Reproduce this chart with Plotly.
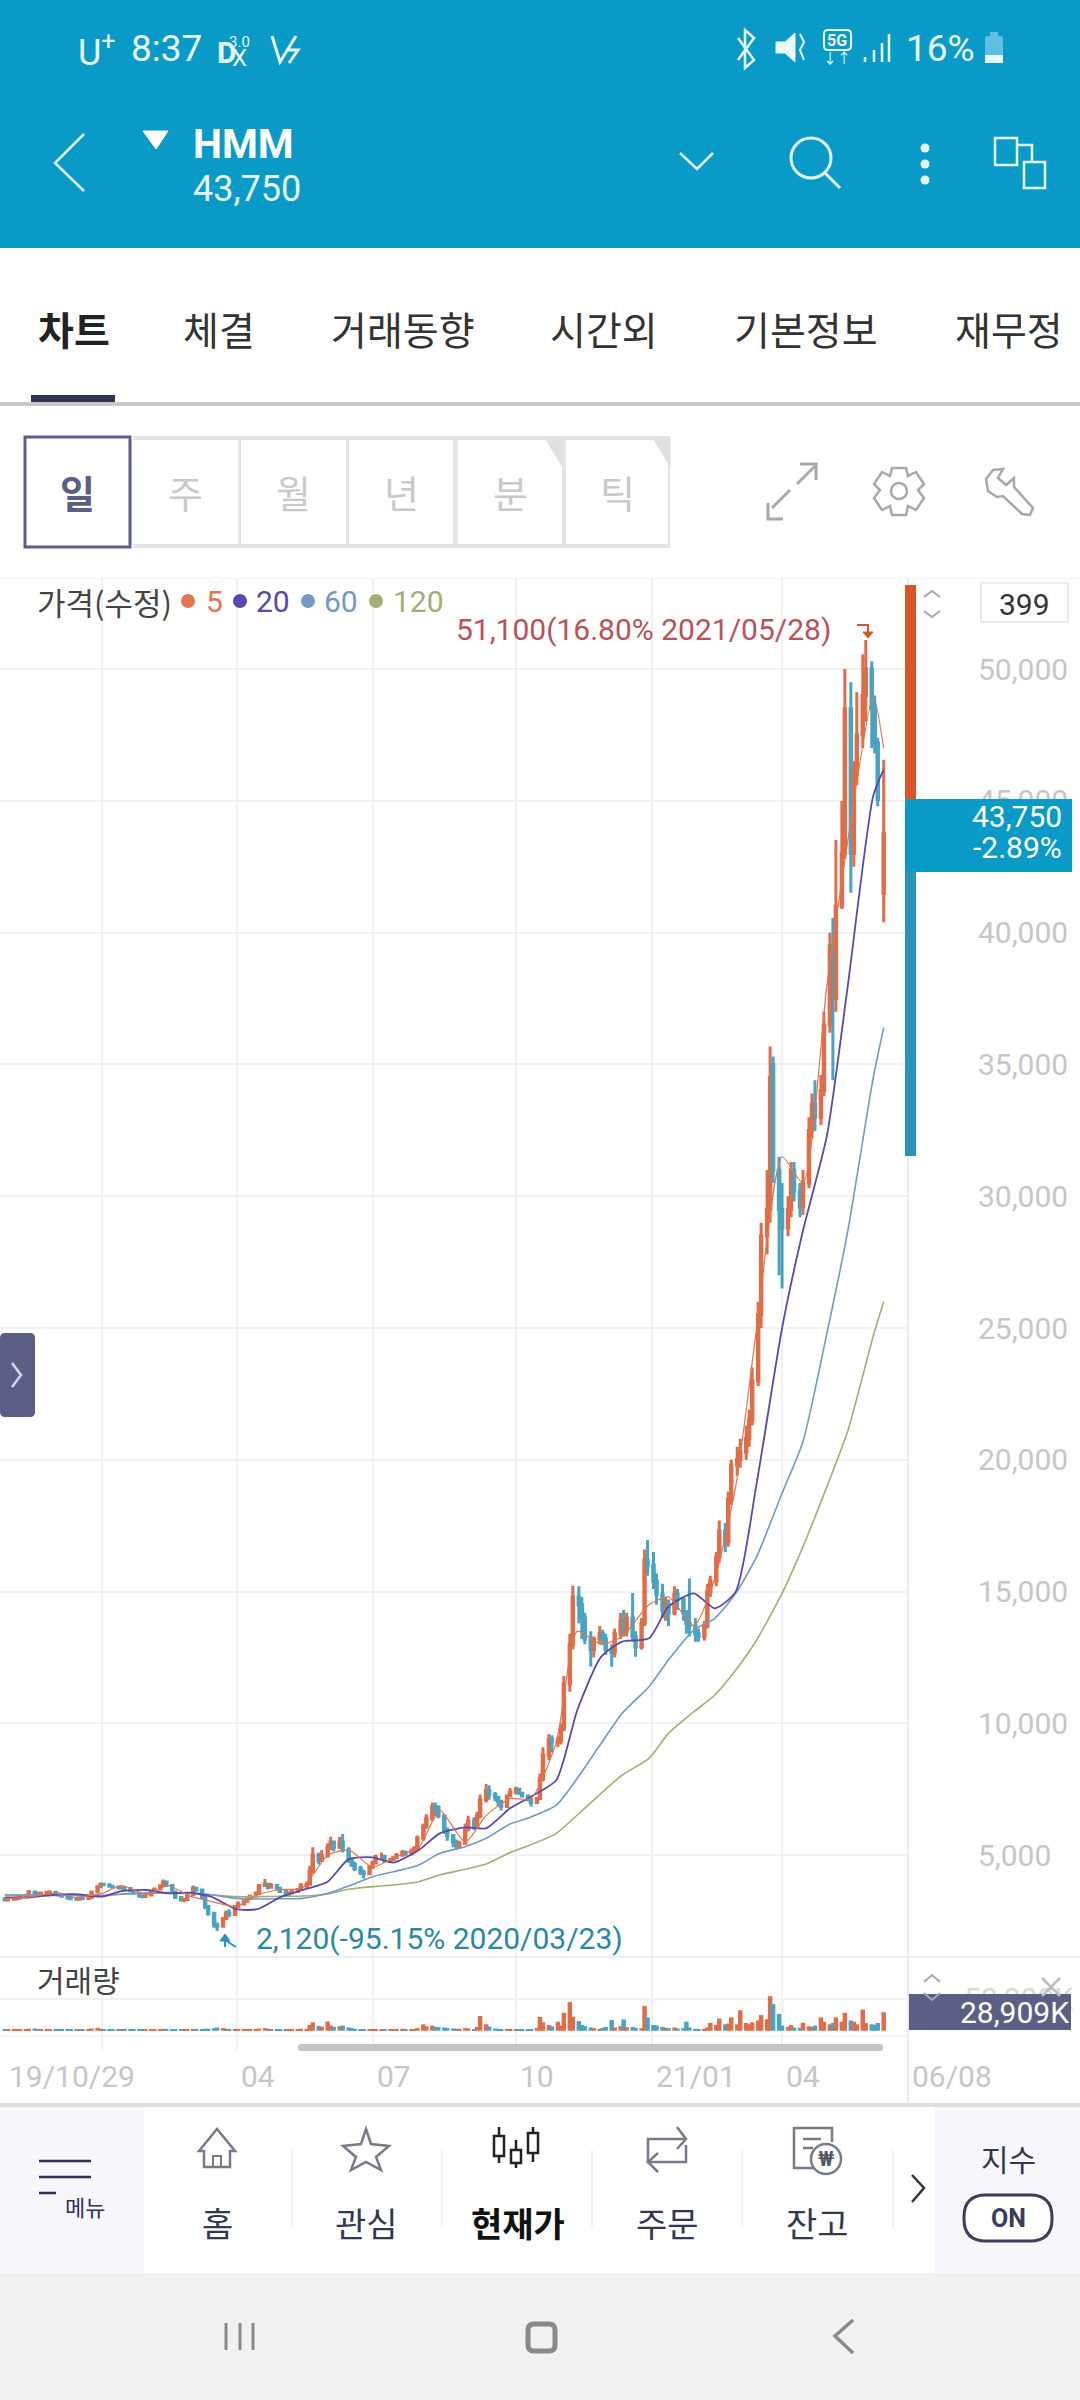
import pandas as pd
import plotly.graph_objects as go

W, H = 1080, 2400
FONT = "Roboto, 'Noto Sans CJK KR', sans-serif"
KR = "'Noto Sans CJK KR', Roboto, sans-serif"

UP = "#d9552a"
DOWN = "#2a93b9"
HEADER = "#0a9ac8"
NAVY = "#2e3356"
SLATE = "#5c5f85"
GRID = "#f1f1f3"
TICK = "#c6c6c6"

# +++++++++
# Chart data

opens = [
    3350, 3300, 3330, 3340, 3380, 3410, 3420, 3600, 3560,
    3540, 3570, 3590, 3590, 3530, 3490, 3440, 3380, 3350, 3330,
    3370, 3360, 3400, 3600, 3800, 3900, 3880, 3820, 3790, 3760,
    3770, 3740, 3650, 3560, 3440, 3430, 3490, 3600, 3720, 3840,
    3980, 3850, 3600, 3400, 3300, 3320, 3500, 3750, 3680, 3400,
    3050, 2800, 2350, 2300, 2600, 2800, 2750, 3050, 3150, 3250,
    3350, 3450, 3550, 3850, 3900, 3780, 3850, 3750, 3620, 3520,
    3580, 3620, 3700, 3850, 3900, 4400, 5000, 4800, 5000, 5300,
    5500, 5300, 5500, 5200, 4800, 4650, 4500, 4350, 4300, 4550,
    4700, 4950, 4950, 4780, 4850, 4900, 5000, 5100, 5050, 5150,
    5250, 5650, 6100, 6400, 6850, 6800, 6500, 5950, 5750, 5500,
    5350, 5450, 6000, 6300, 6050, 6500, 7100, 7450, 7300, 7200,
    7050, 6850, 7250, 7400, 7500, 7350, 7250, 7100, 7000, 7150,
    7900, 8800, 9400, 9300, 9350, 9800, 11500, 13000, 14800, 14500,
    14000, 13200, 12800, 13200, 13400, 13200, 12800, 12700, 13400, 13900,
    13500, 14000, 13300, 12900, 13800, 16200, 16000, 15400, 14900, 14300,
    14500, 14200, 14900, 14700, 14200, 13800, 13700, 13400, 13300, 13700,
    15000, 15400, 16300, 17300, 16900, 18500, 19800, 20000, 20300, 20800,
    21500, 23000, 25500, 28500, 29500, 35000, 31000, 29500, 28800, 29500,
    31000, 30200, 29600, 30500, 32500, 33500, 33000, 34000, 36500, 39500,
    37500, 41000, 43000, 48500, 43000, 46000, 47500, 49000, 50000, 48500,
    47200, 41500,
]
closes = [
    3300, 3330, 3340, 3380, 3410, 3480, 3600, 3560, 3540,
    3570, 3590, 3600, 3530, 3490, 3440, 3380, 3350, 3330, 3370,
    3360, 3400, 3600, 3800, 3900, 3880, 3820, 3790, 3760, 3770,
    3740, 3650, 3560, 3440, 3430, 3490, 3600, 3720, 3840, 3980,
    3850, 3600, 3400, 3300, 3320, 3500, 3750, 3680, 3400, 3050,
    2800, 2350, 2300, 2600, 2800, 2750, 3050, 3150, 3250, 3350,
    3450, 3550, 3850, 3900, 3780, 3850, 3750, 3620, 3520, 3580,
    3620, 3700, 3850, 3900, 4400, 5000, 4800, 5000, 5300, 5500,
    5300, 5500, 5200, 4800, 4650, 4500, 4350, 4300, 4550, 4700,
    4950, 4950, 4780, 4850, 4900, 5000, 5100, 5050, 5150, 5250,
    5650, 6100, 6400, 6850, 6800, 6500, 5950, 5750, 5500, 5350,
    5450, 6000, 6300, 6050, 6500, 7100, 7450, 7300, 7200, 7050,
    6850, 7250, 7400, 7500, 7350, 7250, 7100, 7000, 7150, 7900,
    8800, 9400, 9300, 9350, 9800, 11500, 13000, 14800, 14500, 14000,
    13200, 12800, 13200, 13400, 13200, 12800, 12700, 13400, 13900, 13500,
    14000, 13300, 12900, 13800, 16200, 16000, 15400, 14900, 14300, 14500,
    14200, 14900, 14700, 14200, 13800, 13700, 13400, 13300, 13700, 15000,
    15400, 16300, 17300, 16900, 18500, 19800, 20000, 20300, 20800, 21500,
    23000, 25500, 28500, 29500, 34500, 31000, 29500, 28800, 29500, 31000,
    30200, 29600, 30500, 32500, 33500, 33000, 34000, 36500, 39500, 39000,
    41000, 43000, 48500, 43000, 46000, 47500, 49000, 50000, 48500, 47200,
    45050, 43750,
]
highs = [
    3380, 3350, 3360, 3400, 3430, 3500, 3680, 3640, 3590,
    3600, 3620, 3640, 3610, 3550, 3510, 3460, 3400, 3380, 3390,
    3410, 3430, 3650, 3850, 3960, 3950, 3900, 3850, 3820, 3800,
    3800, 3760, 3680, 3590, 3480, 3520, 3640, 3760, 3880, 4080,
    4020, 3880, 3640, 3440, 3350, 3540, 3850, 3800, 3700, 3420,
    3100, 2850, 2450, 2650, 2900, 2950, 3100, 3250, 3300, 3400,
    3500, 3620, 3900, 4100, 3950, 3950, 3880, 3780, 3640, 3600,
    3650, 3750, 3950, 4000, 4600, 5300, 5100, 5200, 5450, 5700,
    5550, 5700, 5800, 5300, 4900, 4750, 4600, 4450, 4620, 4800,
    5020, 5100, 5020, 4900, 4950, 5080, 5200, 5180, 5250, 5350,
    5750, 6200, 6550, 7000, 7000, 6900, 6550, 6050, 5800, 5600,
    5550, 6200, 6500, 6450, 6650, 7300, 7700, 7650, 7400, 7250,
    7100, 7300, 7550, 7600, 7550, 7400, 7300, 7150, 7200, 8100,
    9100, 9600, 9550, 9500, 10000, 11800, 13400, 15225, 15200, 14800,
    14200, 13500, 13300, 13700, 13550, 13400, 13000, 13600, 14200, 14300,
    14200, 14950, 13500, 14000, 16600, 16960, 16500, 15700, 15300, 14800,
    14700, 15200, 15100, 14800, 14300, 15500, 14000, 13600, 13900, 15300,
    15600, 16500, 17700, 17600, 18800, 20000, 20500, 20800, 21300, 21900,
    23500, 26000, 29000, 31000, 35680, 35300, 31500, 30500, 30000, 31300,
    31300, 30500, 31000, 33000, 33900, 34400, 34600, 37000, 40000, 40560,
    43520, 45000, 50000, 49500, 46500, 49120, 50560, 51100, 50300, 49000,
    47400, 46560,
]
lows = [
    3260, 3280, 3310, 3320, 3360, 3390, 3400, 3530, 3510,
    3510, 3550, 3570, 3510, 3470, 3420, 3360, 3300, 3290, 3310,
    3320, 3340, 3380, 3580, 3780, 3840, 3800, 3760, 3730, 3730,
    3700, 3620, 3520, 3390, 3370, 3410, 3470, 3580, 3700, 3820,
    3800, 3560, 3360, 3240, 3220, 3300, 3480, 3620, 3350, 2950,
    2700, 2250, 2120, 2250, 2550, 2650, 2700, 3000, 3100, 3200,
    3300, 3420, 3520, 3800, 3700, 3750, 3700, 3580, 3460, 3480,
    3550, 3600, 3680, 3750, 3880, 4300, 4650, 4750, 4900, 5200,
    5150, 5250, 5100, 4700, 4550, 4400, 4250, 4120, 4250, 4480,
    4650, 4850, 4700, 4700, 4780, 4850, 4950, 4980, 5000, 5100,
    5200, 5550, 6000, 6300, 6500, 6400, 5800, 5550, 5300, 5200,
    5250, 5400, 5900, 5950, 6000, 6400, 7000, 7100, 7050, 6850,
    6700, 6800, 7200, 7300, 7300, 7200, 7050, 6850, 6950, 7100,
    7800, 8600, 8900, 9100, 9200, 9700, 11200, 12800, 13800, 13200,
    13000, 12150, 12500, 13000, 13000, 12600, 12150, 12500, 13200, 13300,
    13300, 13100, 12530, 12800, 13700, 15600, 15100, 14500, 14000, 13900,
    13700, 14100, 14300, 13900, 13400, 13300, 13100, 13100, 13150, 13600,
    14800, 15200, 16100, 16500, 16700, 18300, 19400, 19700, 20000, 20500,
    21300, 22800, 25000, 27800, 29000, 30500, 27000, 26500, 28480, 29200,
    29800, 29200, 29300, 30300, 32200, 32480, 32700, 33800, 36200, 34400,
    37000, 40900, 42800, 41520, 42500, 45600, 47000, 48000, 47000, 46800,
    44800, 40400,
]
volumes_k = [
    2500, 2000, 2800, 1800, 2000, 2200, 3000, 3500, 2500,
    2200, 2800, 2000, 2400, 1800, 2000, 2500, 2200, 1800, 2000,
    1900, 2200, 3500, 4500, 3000, 2500, 2200, 1800, 2000, 1800,
    1800, 2000, 1800, 2500, 1900, 2000, 2200, 1800, 2500, 3000,
    2000, 2500, 1800, 2000, 1800, 2200, 2800, 2000, 2500, 3000,
    3000, 4000, 5000, 4000, 3000, 2500, 2000, 2500, 2400, 2200,
    2400, 2600, 3500, 4000, 3000, 2500, 2400, 2000, 2200, 2000,
    2000, 2400, 3000, 3000, 9000, 13000, 7500, 6000, 14500, 8000,
    6000, 7000, 8000, 5000, 4000, 3000, 2500, 2200, 2000, 2400,
    2500, 2000, 1800, 2000, 2200, 2500, 3000, 2000, 2000, 2500,
    4000, 10000, 7000, 8000, 6000, 5500, 5000, 4000, 3500, 3000,
    3000, 4000, 3500, 2800, 6000, 23000, 10000, 6500, 3500, 3000,
    2500, 2800, 2500, 2000, 2000, 2200, 2000, 2500, 4500, 21800,
    13000, 9000, 7000, 14000, 8000, 28000, 44700, 21800, 15000, 9000,
    7000, 5000, 4000, 3000, 4500, 6000, 16600, 5000, 7000, 17700,
    5500, 6000, 4500, 4000, 38500, 20800, 9000, 8000, 6000, 4500,
    4000, 5000, 3500, 4000, 14000, 5000, 3000, 2500, 3000, 5000,
    12500, 9000, 19000, 10000, 11000, 20800, 10000, 32000, 12000, 10000,
    13000, 16000, 24400, 18000, 54000, 41600, 26000, 8000, 6000, 8800,
    5000, 4500, 12500, 7000, 6000, 8000, 20800, 14000, 10000, 12000,
    20800, 14000, 28000, 16000, 14000, 10000, 33000, 12000, 10000, 9000,
    12000, 28909,
]

ma_dates = [
    "2019-10-29", "2019-11-15", "2019-12-01", "2019-12-15", "2020-01-02",
    "2020-01-15", "2020-02-01", "2020-02-15", "2020-03-01", "2020-03-15",
    "2020-04-01", "2020-04-15", "2020-05-01", "2020-05-15", "2020-06-01",
    "2020-06-15", "2020-07-01", "2020-07-15", "2020-08-01", "2020-08-15",
    "2020-09-01", "2020-09-15", "2020-10-01", "2020-10-15", "2020-11-01",
    "2020-11-15", "2020-12-01", "2020-12-15", "2021-01-02", "2021-01-15",
    "2021-02-01", "2021-02-15", "2021-03-01", "2021-03-15", "2021-04-01",
    "2021-04-15", "2021-05-01", "2021-05-15", "2021-06-01", "2021-06-08",
]
ma5 = [
    3350, 3420, 3560, 3400, 3550, 3850, 3500, 3850, 3450, 3250,
    3050, 3500, 3700, 3750, 5000, 5200, 4550, 4900, 5300, 6700,
    5500, 6500, 7150, 7150, 9300, 13500, 13000, 13300, 14500, 14800,
    13700, 15500, 19000, 25000, 31500, 30500, 38000, 43500, 49000, 47000,
]
ma20 = [
    3400, 3400, 3500, 3520, 3427, 3640, 3680, 3554, 3580, 3427,
    2950, 2950, 3427, 3680, 3996, 4850, 4920, 4717, 5198, 5830,
    6058, 6020, 6779, 7221, 7853, 10509, 12533, 13102, 13229, 14430,
    14936, 14367, 15000, 19110, 25000, 28700, 32300, 38000, 45200, 46200,
]
ma60 = [
    3490, 3480, 3470, 3480, 3480, 3530, 3560, 3580, 3560, 3500,
    3364, 3340, 3350, 3364, 3554, 3832, 4186, 4376, 4629, 5071,
    5324, 5640, 6184, 6450, 6900, 7917, 9245, 10383, 11394, 12406,
    13545, 13987, 14936, 16327, 18730, 20700, 24800, 28700, 34500, 36400,
]
ma120 = [
    3490, 3490, 3490, 3470, 3450, 3520, 3560, 3580, 3560, 3500,
    3427, 3430, 3440, 3450, 3530, 3706, 3807, 3870, 3996, 4250,
    4465, 4667, 5100, 5400, 5830, 6525, 7348, 8043, 8676, 9624,
    10446, 11078, 12027, 13165, 14936, 16707, 18983, 21100, 24700, 26000,
]
ma_periods = ["5", "20", "60", "120"]
ma_colors = ["#e2744e", "#5a48ae", "#7199c4", "#a3ad74"]

price_ticks = [5000, 10000, 15000, 20000, 25000, 30000, 35000, 40000, 45000, 50000]
grid_dates = ["2020-01-02", "2020-04-01", "2020-07-01", "2020-10-05", "2021-01-04", "2021-04-01"]
date_label_dates = ["2019-10-29", "2020-04-01", "2020-07-01", "2020-10-05", "2021-01-04", "2021-04-01"]
date_labels = ["19/10/29", "04", "07", "10", "21/01", "04"]
tab_names = ["차트", "체결", "거래동향", "시간외", "기본정보", "재무정"]
period_names = ["일", "주", "월", "년", "분", "틱"]
nav_names = ["홈", "관심", "현재가", "주문", "잔고"]

session_dates = pd.bdate_range(end="2021-06-08", periods=len(closes), freq="2B")


# +++++++++
# Pixel helpers for the phone screen around the chart

def px(x):
    return x / W

def py(y):
    return 1 - y / H

shapes = []
notes = []

def rect(x0, y0, x1, y1, fill=None, line=None, width=0, radius=0):
    if radius:
        r = radius
        pts = (f"M {px(x0 + r)} {py(y0)} L {px(x1 - r)} {py(y0)} Q {px(x1)} {py(y0)} {px(x1)} {py(y0 + r)} "
               f"L {px(x1)} {py(y1 - r)} Q {px(x1)} {py(y1)} {px(x1 - r)} {py(y1)} "
               f"L {px(x0 + r)} {py(y1)} Q {px(x0)} {py(y1)} {px(x0)} {py(y1 - r)} "
               f"L {px(x0)} {py(y0 + r)} Q {px(x0)} {py(y0)} {px(x0 + r)} {py(y0)} Z")
        shapes.append(dict(type="path", path=pts, xref="paper", yref="paper", fillcolor=fill or "rgba(0,0,0,0)",
                           line=dict(color=line or "rgba(0,0,0,0)", width=width), layer="above"))
        return
    shapes.append(dict(type="rect", xref="paper", yref="paper", x0=px(x0), x1=px(x1), y0=py(y0), y1=py(y1),
                       fillcolor=fill or "rgba(0,0,0,0)", line=dict(color=line or "rgba(0,0,0,0)", width=width),
                       layer="above"))

def poly(points, color, width=2, fill=None, closed=False):
    path = "M " + " L ".join(f"{px(x)} {py(y)}" for x, y in points) + (" Z" if closed else "")
    shapes.append(dict(type="path", path=path, xref="paper", yref="paper", fillcolor=fill or "rgba(0,0,0,0)",
                       line=dict(color=color, width=width), layer="above"))

def circle(x, y, r, fill=None, line=None, width=0):
    shapes.append(dict(type="circle", xref="paper", yref="paper", x0=px(x - r), x1=px(x + r), y0=py(y + r), y1=py(y - r),
                       fillcolor=fill or "rgba(0,0,0,0)", line=dict(color=line or "rgba(0,0,0,0)", width=width),
                       layer="above"))

def text(x, y, s, size, color, anchor="center", bold=False, family=FONT):
    if bold:
        s = f"<b>{s}</b>"
    notes.append(dict(x=px(x), y=py(y), xref="paper", yref="paper", text=s, showarrow=False, xanchor=anchor,
                      yanchor="middle", borderpad=0, font=dict(family=family, size=size, color=color)))


# +++++++++
# Status bar and header

rect(0, 0, W, 248, fill=HEADER)
text(77, 50, "U<sup>+</sup>", 36, "#e8f8ff", "left")
text(130, 49, "8:37", 37, "#e8f8ff", "left")
text(216, 52, "D", 30, "#e8f8ff", "left", bold=True)
text(239, 42, "3.0", 15, "#e8f8ff", "center")
text(239, 58, "X", 24, "#e8f8ff", "center")
poly([(272, 36), (280, 62), (296, 36)], "#e8f8ff", 3)
poly([(288, 50), (298, 50), (289, 63)], "#e8f8ff", 3)
poly([(738, 38), (754, 60), (745, 68), (745, 30), (754, 38), (738, 60)], "#e8f8ff", 2.5)
poly([(776, 42), (785, 42), (795, 33), (795, 62), (785, 53), (776, 53)], "#e8f8ff", 1, fill="#e8f8ff", closed=True)
poly([(800, 34), (804, 42), (800, 50), (804, 60)], "#e8f8ff", 2)
rect(824, 30, 851, 50, line="#e8f8ff", width=2, radius=4)
text(837.5, 40, "5G", 16, "#e8f8ff", bold=True)
text(837, 58, "↓↑", 14, "#e8f8ff")
for bar_x, bar_top in zip([865, 874, 882, 889], [57, 50, 43, 34]):
    poly([(bar_x, bar_top), (bar_x, 62)], "#e8f8ff", 2.5)
text(905, 49, "16%", 37, "#e8f8ff", "left")
rect(985, 36, 1003, 63, fill="#60bfe0", radius=2)
rect(990, 32, 998, 36, fill="#60bfe0")
rect(985, 55, 1003, 63, fill="#e8f8ff")

poly([(84, 134), (55, 163), (84, 191)], "#e4f6fc", 2.5)
poly([(143, 131), (168, 131), (156, 149)], "white", 1, fill="white", closed=True)
text(192, 144, "HMM", 41, "white", "left", bold=True)
text(192, 189, "43,750", 36, "#e4f6fc", "left")
poly([(680, 153), (697, 169), (713, 153)], "#e4f6fc", 2.5)
circle(811, 158, 20, line="#e4f6fc", width=3)
poly([(825, 173), (840, 188)], "#e4f6fc", 3)
for dot_y in [148, 164, 180]:
    circle(925, dot_y, 4.5, fill="#e4f6fc")
rect(995, 138, 1017, 165, line="#e4f6fc", width=2.5)
rect(1024, 162, 1045, 188, line="#e4f6fc", width=2.5)
poly([(1017, 145), (1032, 145), (1032, 162)], "#e4f6fc", 2.5)


# +++++++++
# Tabs and period buttons

for name, x0 in zip(tab_names, [37, 182, 330, 549, 733, 954]):
    selected = name == tab_names[0]
    text(x0, 328, name, 39, "#222222" if selected else "#333333", "left", bold=selected, family=KR)
rect(0, 402, W, 406, fill="#c8c8c8")
rect(31, 395, 115, 402, fill=NAVY)

rect(133, 436, 670, 548, fill="#e4e4e4")
for x0, x1, name in zip([133, 241, 349, 458, 566], [238, 346, 453, 562, 668], period_names[1:]):
    rect(x0, 440, x1, 544, fill="white")
    text((x0 + x1) / 2, 492, name, 38, "#c9c9c9", family=KR)
for x1 in [562, 670]:
    poly([(x1 - 17, 438), (x1, 438), (x1, 466)], "#e0e0e0", 1, fill="#e0e0e0", closed=True)
rect(25, 437, 130, 547, fill="white", line=SLATE, width=3)
text(78, 492, period_names[0], 38, SLATE, bold=True, family=KR)

poly([(772, 508), (790, 490)], "#a8a8a8", 3)
poly([(768, 503), (768, 519), (783, 519)], "#a8a8a8", 3)
poly([(797, 484), (815, 466)], "#a8a8a8", 3)
poly([(800, 464), (816, 464), (816, 480)], "#a8a8a8", 3)
poly([(892, 468), (906, 468), (908, 476), (916, 472), (924, 484), (918, 490), (924, 498), (916, 510),
      (908, 506), (906, 515), (892, 515), (890, 506), (882, 510), (874, 498), (880, 490), (874, 484),
      (882, 472), (890, 476)], "#a8a8a8", 2.5, closed=True)
circle(899, 491, 8, line="#a8a8a8", width=2.5)
poly([(1003, 469), (993, 470), (986, 479), (988, 491), (997, 497), (1003, 496), (1022, 514), (1030, 515),
      (1033, 508), (1014, 487), (1014, 478), (1006, 485), (998, 478)], "#a8a8a8", 2.5, closed=True)


# +++++++++
# Chart panes

rect(0, 578, W, 578.5, fill="#e9e9e9")
rect(0, 1956, W, 1958, fill="#ededed")
rect(0, 2035, 907, 2036.5, fill=GRID)
rect(907, 578, 909, 2103, fill="#ececec")

# price position marker on the right
rect(905, 585, 916, 800, fill="#d9552a")
rect(905, 872, 916, 1156, fill="#2a93b9")
rect(905, 799, 1072, 872, fill=HEADER)
text(1063, 817, "43,750", 30, "white", "right")
text(1063, 847, "-2.89%", 30, "white", "right")

rect(981, 583, 1068, 622, fill="white", line="#ececec", width=2)
text(1024, 604, "399", 30, "#333333")
poly([(924, 597), (932, 591), (940, 597)], "#a8a8a8", 2)
poly([(924, 611), (932, 617), (940, 611)], "#a8a8a8", 2)

text(36, 601, "가격(수정)", 31, "#444444", "left", family=KR)
for ma_x, label_x, period, color in zip([188, 240, 308, 376], [205, 255, 323, 392], ma_periods, ma_colors):
    circle(ma_x, 601, 7, fill=color)
    text(label_x, 601, period, 30, color, "left")

text(455, 630, "51,100(16.80% 2021/05/28)", 30, "#b9505a", "left")
poly([(857, 625), (868, 625), (868, 632)], UP, 2)
poly([(863, 632), (873, 632), (868, 638)], UP, 1, fill=UP, closed=True)

text(255, 1938, "2,120(-95.15% 2020/03/23)", 30, "#2a87a6", "left")
poly([(225, 1947), (225, 1940), (236, 1947)], DOWN, 2)
poly([(220, 1941), (230, 1941), (225, 1934)], DOWN, 1, fill=DOWN, closed=True)

text(36, 1979, "거래량", 30, "#444444", "left", family=KR)
poly([(924, 1982), (932, 1975), (940, 1982)], "#a8a8a8", 2)
rect(909, 1994, 1071, 2030, fill=SLATE)
poly([(924, 1993), (932, 2000), (940, 1993)], "#a8a8a8", 2)
poly([(1042, 1978), (1060, 1996)], "#bdbdbd", 2.5)
poly([(1060, 1978), (1042, 1996)], "#bdbdbd", 2.5)
text(1070, 2012, "28,909K", 30, "white", "right")

rect(298, 2044, 883, 2051, fill="#c4c4c4", radius=3)
text(911, 2076, "06/08", 30, TICK, "left")
rect(0, 1333, 35, 1417, fill=SLATE, radius=5)
poly([(12, 1363), (21, 1375), (12, 1387)], "#d8d9e6", 2.5)

for label_date, label in zip(date_label_dates, date_labels):
    notes.append(dict(x=label_date, y=py(2076), xref="x2", yref="paper", text=label, showarrow=False, xanchor="left",
                      yanchor="middle", xshift=2, font=dict(family=FONT, size=30, color=TICK)))


# +++++++++
# Bottom menu and navigation bar

rect(0, 2103, W, 2107, fill="#e0e0e0")
rect(0, 2107, 144, 2273, fill="#f6f6fb")
rect(144, 2107, 935, 2273, fill="white")
rect(935, 2107, W, 2273, fill="#f6f6fb")
rect(0, 2273, W, H, fill="#f1f1f1")

poly([(39, 2161), (91, 2161)], NAVY, 2.5)
poly([(39, 2177), (91, 2177)], NAVY, 2.5)
poly([(39, 2193), (56, 2193)], NAVY, 2.5)
text(85, 2206, "메뉴", 22, NAVY, family=KR)

for sep_x in [292, 442, 592, 742, 893]:
    poly([(sep_x, 2150), (sep_x, 2227)], "#eeeeee", 1.5)
for name, nav_x in zip(nav_names, [217, 366, 518, 667, 817]):
    selected = name == "현재가"
    text(nav_x, 2222, name, 34, "#111111" if selected else "#33374f", bold=selected, family=KR)

poly([(217, 2129), (235, 2151), (230, 2151), (230, 2167), (204, 2167), (204, 2151), (199, 2151)], "#777a88", 2.5, closed=True)
poly([(213, 2167), (213, 2156), (221, 2156), (221, 2167)], "#777a88", 2)
poly([(366, 2129), (371, 2144), (389, 2146), (376, 2157), (381, 2170), (366, 2162), (351, 2170), (356, 2157),
      (343, 2146), (361, 2144)], "#777a88", 2.5, closed=True)
for stem_x, body_top, body_bot, stem_top, stem_bot in [(499, 2136, 2156, 2127, 2163), (516, 2150, 2163, 2140, 2168),
                                                        (533, 2133, 2153, 2127, 2162)]:
    poly([(stem_x, stem_top), (stem_x, stem_bot)], "#222222", 2.5)
    rect(stem_x - 5, body_top, stem_x + 5, body_bot, fill="white", line="#222222", width=2.5)
poly([(652, 2162), (648, 2162), (648, 2139), (684, 2139)], "#777a88", 2.5)
poly([(677, 2127), (686, 2139), (677, 2149)], "#777a88", 2.5)
poly([(686, 2145), (686, 2162), (650, 2162)], "#777a88", 2.5)
poly([(658, 2153), (648, 2162), (658, 2172)], "#777a88", 2.5)
poly([(822, 2168), (794, 2168), (794, 2128), (832, 2128), (832, 2142)], "#777a88", 2.5)
poly([(803, 2139), (821, 2139)], "#777a88", 2.5)
poly([(803, 2148), (813, 2148)], "#777a88", 2.5)
circle(826, 2159, 15, fill="white", line="#777a88", width=2.5)
text(826, 2159, "₩", 20, "#555868", bold=True)
poly([(912, 2175), (924, 2188), (912, 2202)], "#333333", 2.5)

text(1008, 2158, "지수", 30, "#33374f", family=KR)
rect(964, 2195, 1052, 2241, fill="white", line="#3a3d5c", width=3, radius=22)
text(1008, 2218, "ON", 25, "#3a3d5c", bold=True)

for bar_x in [226, 240, 253]:
    poly([(bar_x, 2323), (bar_x, 2350)], "#8a8a8a", 3)
rect(528, 2324, 555, 2351, line="#8a8a8a", width=5, radius=6)
poly([(853, 2320), (835, 2336), (853, 2353)], "#8a8a8a", 3.5)


# +++++++++
# Traces

volume_colors = [UP if c >= o else DOWN for o, c in zip(opens, closes)]

fig = go.Figure()

for values, color, line_width in zip([ma120, ma60, ma20], ma_colors[:0:-1], [1.6, 1.6, 1.8]):
    fig.add_trace(go.Scatter(
        x=ma_dates,
        y=values,
        mode="lines",
        line=dict(color=color, width=line_width, shape="spline", smoothing=0.6),
        xaxis="x",
        yaxis="y",
        showlegend=False,
    ))

fig.add_trace(go.Candlestick(
    x=session_dates,
    open=opens,
    high=highs,
    low=lows,
    close=closes,
    increasing=dict(line=dict(color=UP, width=3), fillcolor=UP),
    decreasing=dict(line=dict(color=DOWN, width=3), fillcolor=DOWN),
    whiskerwidth=0,
    opacity=0.85,
    xaxis="x",
    yaxis="y",
    showlegend=False,
))

fig.add_trace(go.Scatter(
    x=ma_dates,
    y=ma5,
    mode="lines",
    line=dict(color=ma_colors[0], width=1.2, shape="spline", smoothing=0.6),
    xaxis="x",
    yaxis="y",
    showlegend=False,
))

fig.add_trace(go.Bar(
    x=session_dates,
    y=volumes_k,
    width=3 * 86400000,
    opacity=0.85,
    marker=dict(color=volume_colors, line=dict(width=0)),
    xaxis="x2",
    yaxis="y2",
    showlegend=False,
))

x_range = ["2019-10-25 18:00", "2021-06-23 14:00"]

fig.update_layout(
    width=W,
    height=H,
    margin=dict(l=0, r=0, t=0, b=0),
    paper_bgcolor="white",
    plot_bgcolor="white",
    font=dict(family=FONT),
    shapes=shapes,
    annotations=notes,
    xaxis=dict(
        domain=[0, 907 / W],
        anchor="y",
        range=x_range,
        type="date",
        tickvals=grid_dates,
        showticklabels=False,
        showgrid=True,
        gridcolor=GRID,
        gridwidth=1.5,
        zeroline=False,
        rangeslider=dict(visible=False),
    ),
    yaxis=dict(
        domain=[py(1956), py(578)],
        anchor="x",
        side="right",
        range=[1176, 53457],
        tickvals=price_ticks,
        tickformat=",d",
        tickfont=dict(family=FONT, size=30, color=TICK),
        ticks="outside",
        ticklen=64,
        tickcolor="rgba(0,0,0,0)",
        showgrid=True,
        gridcolor=GRID,
        gridwidth=1.5,
        zeroline=False,
    ),
    xaxis2=dict(
        domain=[0, 907 / W],
        anchor="y2",
        range=x_range,
        type="date",
        tickvals=grid_dates,
        showticklabels=False,
        showgrid=True,
        gridcolor=GRID,
        gridwidth=1.5,
        zeroline=False,
    ),
    yaxis2=dict(
        domain=[py(2050), py(1956)],
        anchor="x2",
        side="right",
        range=[-30156, 116719],
        tickvals=[50000],
        ticktext=["50,000K"],
        tickfont=dict(family=FONT, size=30, color="#d8d8d8"),
        ticks="outside",
        ticklen=50,
        tickcolor="rgba(0,0,0,0)",
        showgrid=True,
        gridcolor=GRID,
        gridwidth=1.5,
        zeroline=False,
    ),
)

fig.write_html("out.html", config=dict(displayModeBar=False), post_script="document.body.style.margin='0';")
